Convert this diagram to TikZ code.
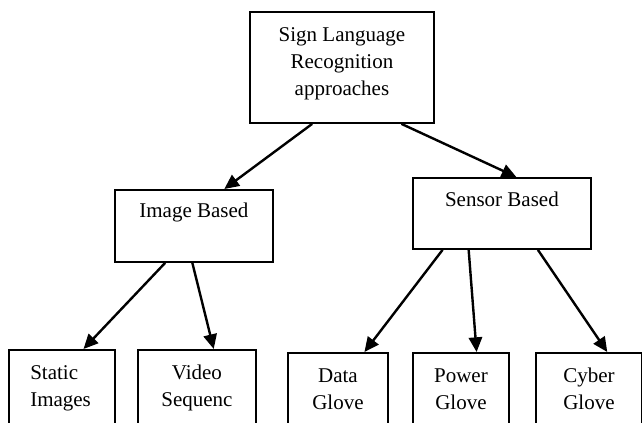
\documentclass[tikz,border=0pt]{standalone}
\usepackage{fontspec}
\setmainfont{Liberation Serif}
\usetikzlibrary{arrows.meta,calc,positioning}
\tikzset{
    box/.style = {
        draw,
        line width=1.4pt,
        inner sep=0pt,
        anchor=north west,
        },
    caption/.style = {
        inner sep=0pt,
        align=center,
        font=\fontsize{15.75pt}{20.3pt}\selectfont,
        },
    link/.style = {
        line width=1.8pt,
        -{Triangle[length=11pt,width=10pt]},
        },
}

\begin{document}
\begin{tikzpicture}[x=0.75pt,y=-0.75pt]
    \useasboundingbox (0,0) rectangle (642,423);
    \clip (0,0) rectangle (642,423);

    % boxes
    \node[box, minimum width=138pt, minimum height=83.25pt] (top) at (249,11) {};
    \node[box, minimum width=118.5pt, minimum height=54pt] (img) at (114,189) {};
    \node[box, minimum width=133.5pt, minimum height=53.25pt] (sens) at (412,177) {};
    \node[box, minimum width=79.5pt, minimum height=75pt] (stat) at (8,349) {};
    \node[box, minimum width=88.5pt, minimum height=75pt] (vid) at (137,349) {};
    \node[box, minimum width=75pt, minimum height=75pt] (data) at (287,352) {};
    \node[box, minimum width=72pt, minimum height=75pt] (pow) at (412,352) {};
    \node[box, minimum width=79.5pt, minimum height=75pt] (cyb) at (535,352) {};

    % texts
    \node[caption, below=12pt of top.north] (top-t) {Sign Language\\Recognition\\approaches};
    \node[caption, below=10.5pt of img.north] (img-t) {Image Based};
    \node[caption, below=11.25pt of sens.north] (sens-t) {Sensor Based};
    \node[caption, align=left, anchor=north west, below right=12pt and 16.5pt of stat.north west] (stat-t) {Static\\Images};
    \node[caption, below=12pt of vid.north] (vid-t) {Video\\Sequenc};
    \node[caption, below=12pt of data.north] (data-t) {Data\\Glove};
    \node[caption, below=12pt of pow.north] (pow-t) {Power\\Glove};
    \node[caption, below=12pt of cyb.north] (cyb-t) {Cyber\\Glove};

    % arrows
    \draw[link] ($(top.south west)!0.34!(top.south east)$) -- ($(img.north west)!0.69!(img.north east)$);
    \draw[link] ($(top.south west)!0.82!(top.south east)$) -- ($(sens.north west)!0.58!(sens.north east)$);
    \draw[link] ($(img.south west)!0.32!(img.south east)$) -- ($(stat.north west)!0.70!(stat.north east)$);
    \draw[link] ($(img.south west)!0.49!(img.south east)$) -- ($(vid.north west)!0.64!(vid.north east)$);
    \draw[link] ($(sens.south west)!0.17!(sens.south east)$) -- ($(data.north west)!0.76!(data.north east)$);
    \draw[link] ($(sens.south west)!0.315!(sens.south east)$) -- ($(pow.north west)!0.66!(pow.north east)$);
    \draw[link] ($(sens.south west)!0.70!(sens.south east)$) -- ($(cyb.north west)!0.67!(cyb.north east)$);
\end{tikzpicture}
\end{document}
